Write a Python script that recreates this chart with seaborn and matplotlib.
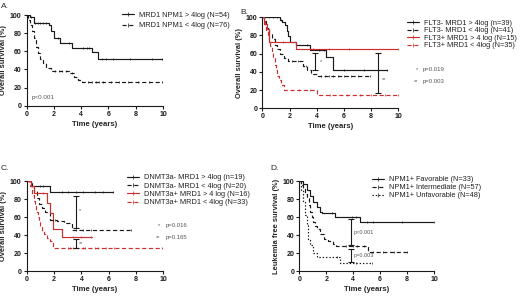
import numpy as np
import pandas as pd
import matplotlib
matplotlib.use("Agg")
import matplotlib.pyplot as plt
from matplotlib.lines import Line2D
import seaborn as sns

sns.set_style("ticks")
plt.rcParams['font.family'] = ['Liberation Sans', 'DejaVu Sans']

RED = "#cc2e2e"
BLACK = "#1a1a1a"
GRAY = "#555555"

# ---------------- Panel A ----------------
a_labels = ["MRD1 NPM1 > 4log (N=54)", "MRD1 NPM1 < 4log (N=76)"]
a_hi_t = [0, 0.25, 0.5, 1.65, 1.8, 2.0, 2.45, 3.3, 4.8, 5.2, 10]
a_hi_s = [100, 98, 91, 89, 82, 75, 69, 64, 59, 52, 52]
a_hi_c = [0.3, 0.6, 0.8, 1.0, 1.2, 1.4, 2.3, 3.1, 4.1, 4.4, 4.6, 5.5, 5.8, 6.3, 7.6, 9.2, 9.9]
a_lo_t = [0, 0.1, 0.25, 0.4, 0.55, 0.7, 0.85, 1.0, 1.2, 1.45, 1.8, 3.2, 3.5, 3.8, 4.05, 10]
a_lo_s = [100, 95, 89, 82, 75, 65, 58, 52, 47, 42, 38, 36, 32, 28, 26, 26]
a_lo_c = [2.1, 2.4, 2.6, 2.9, 3.3, 4.5, 4.8, 5.1, 5.3, 5.6, 6.2, 6.8, 7.4, 8.2, 9.0, 9.9]

# ---------------- Panel B ----------------
b_labels = ["FLT3- MRD1 > 4log (n=39)", "FLT3- MRD1 < 4log (N=41)",
            "FLT3+ MRD1 > 4 log (N=15)", "FLT3+ MRD1 < 4log (N=35)"]
b1_t = [0, 1.3, 1.45, 1.65, 1.8, 1.9, 2.0, 2.5, 3.5, 4.7, 5.2, 9.2]
b1_s = [100, 97, 95, 92, 85, 79, 73, 70, 64, 56, 42, 42]
b1_c = [0.5, 0.8, 1.1, 1.4, 3.3, 4.2, 4.5, 6.0, 7.5, 9.2]
b2_t = [0, 0.1, 0.3, 0.5, 0.7, 0.9, 1.1, 1.3, 1.6, 1.9, 3.0, 3.3, 3.6, 4.0, 7.9]
b2_s = [100, 96, 88, 82, 76, 70, 65, 60, 55, 52, 47, 42, 38, 36, 36]
b2_c = [2.2, 2.6, 3.2, 4.3, 4.6, 4.9, 5.2, 5.6, 6.0, 6.5, 7.0, 7.9]
b3_t = [0, 0.15, 0.35, 0.5, 2.5, 10]
b3_s = [100, 93, 87, 73, 65, 65]
b3_c = [1.5, 3.7, 4.9, 6.4, 10]
b4_t = [0, 0.1, 0.2, 0.3, 0.4, 0.5, 0.6, 0.7, 0.8, 0.9, 1.0, 1.1, 1.25, 1.4, 1.6, 4.05, 10]
b4_s = [100, 97, 91, 86, 80, 74, 68, 62, 55, 48, 42, 36, 31, 26, 20, 15, 15]
b4_c = [2.7, 3.5, 5.0, 6.2, 7.2, 8.0, 9.0, 10]
b_bar_x = [3.9, 8.5]
b_bar_lo = [42, 17]
b_bar_hi = [61, 61]
b_bar_lab = ["*", "**"]
b_p_texts = ["p=0.019", "p=0.003"]

# ---------------- Panel C ----------------
c_labels = ["DNMT3a- MRD1 > 4log (n=19)", "DNMT3a- MRD1 < 4log (N=20)",
            "DNMT3a+ MRD1 > 4 log (N=16)", "DNMT3a+ MRD1 < 4log (N=33)"]
c1_t = [0, 0.35, 1.7, 6.3]
c1_s = [100, 95, 88, 88]
c1_c = [1.0, 1.2, 2.6, 3.0, 3.6, 4.1, 5.0, 5.6, 6.3]
c2_t = [0, 0.4, 0.55, 0.75, 0.9, 1.1, 1.35, 1.7, 2.2, 2.75, 3.3, 7.6]
c2_s = [100, 94, 89, 81, 75, 70, 66, 57, 56, 53, 46, 46]
c2_c = [1.9, 2.1, 3.6, 4.1, 4.7, 7.6]
c3_t = [0, 0.3, 0.5, 1.45, 1.7, 1.95, 2.6, 4.8]
c3_s = [100, 94, 87, 76, 65, 47, 38, 38]
c3_c = [1.2, 3.4, 4.0, 4.7]
c4_t = [0, 0.25, 0.4, 0.5, 0.6, 0.7, 0.8, 0.9, 1.0, 1.15, 1.3, 1.5, 1.7, 1.95, 10]
c4_s = [100, 94, 85, 78, 72, 66, 60, 55, 50, 45, 41, 37, 33, 26, 26]
c4_c = [3.0, 3.2, 3.4, 4.1, 4.3, 5.0, 5.2, 5.8, 6.4, 9.9]
c_bar_x = [3.6, 3.6]
c_bar_lo = [48, 26]
c_bar_hi = [83, 36]
c_bar_lab = ["*", "**"]
c_p_texts = ["p=0.016", "p=0.165"]

# ---------------- Panel D ----------------
d_labels = ["NPM1+ Favorable (N=33)", "NPM1+ Intermediate (N=57)", "NPM1+ Unfavorable (N=48)"]
d1_t = [0, 0.3, 0.55, 0.8, 1.04, 1.3, 1.5, 1.65, 2.65, 4.5, 10]
d1_s = [100, 97, 90, 83, 77, 71, 66, 64, 60, 54, 54]
d1_c = [2.4, 3.9, 4.2, 5.0, 5.5, 7.6, 10]
d2_t = [0, 0.15, 0.3, 0.45, 0.55, 0.7, 0.8, 0.95, 1.04, 1.2, 1.3, 1.5, 1.8, 2.15, 2.5, 2.75, 5.1, 8.0]
d2_s = [100, 96, 92, 86, 81, 73, 66, 60, 55, 50, 47, 41, 36, 33, 30, 28, 21, 21]
d2_c = [3.5, 4.0, 4.3, 4.8, 5.5, 6.2, 7.0, 8.0]
d3_t = [0, 0.15, 0.3, 0.45, 0.55, 0.67, 0.8, 1.04, 1.3, 3.0, 5.4]
d3_s = [100, 90, 77, 62, 51, 36, 29, 20, 16, 9, 9]
d3_c = [2.8, 4.2, 5.4]
d_bar_x = [3.85, 3.85]
d_bar_lo = [29, 10]
d_bar_hi = [58, 25]
d_bar_lab = ["p<0.001", "p=0.003"]

W, H = 520, 296
fig = plt.figure(figsize=(W / 100, H / 100), dpi=100)
fig.patch.set_facecolor("white")


def px_axes(x0, y0, x1, y1):
    return fig.add_axes([x0 / W, 1 - y1 / H, (x1 - x0) / W, (y1 - y0) / H])


def ftext(x, y, s, **kw):
    kw.setdefault("va", "center")
    kw.setdefault("ha", "left")
    fig.text(x / W, 1 - y / H, s, **kw)


DASH = (0, (3.5, 2.2))
DOT = (0, (1.2, 1.6))


def km(ax, t, s, c, color, ls):
    df = pd.DataFrame({"t": t, "s": s})
    sns.lineplot(data=df, x="t", y="s", ax=ax, color=color, linestyle=ls,
                 linewidth=0.85, drawstyle="steps-post", estimator=None,
                 sort=False, legend=False)
    t_arr = np.asarray(t, dtype=float)
    s_arr = np.asarray(s, dtype=float)
    idx = np.clip(np.searchsorted(t_arr, np.asarray(c), side="right") - 1, 0, len(s_arr) - 1)
    cdf = pd.DataFrame({"t": c, "s": s_arr[idx]})
    sns.scatterplot(data=cdf, x="t", y="s", ax=ax, marker="|", s=4,
                    color=color, linewidth=0.5, legend=False, zorder=3)


def style_ax(ax, ylabel):
    ax.set_xlim(0, 10)
    ax.set_ylim(0, 100)
    ax.set_xticks([0, 2, 4, 6, 8, 10])
    ax.set_yticks([0, 20, 40, 60, 80, 100])
    ax.tick_params(axis="both", length=2.5, width=0.8, pad=1.2, labelsize=5, colors=BLACK)
    for lab in ax.get_xticklabels() + ax.get_yticklabels():
        lab.set_fontweight("bold")
    ax.set_xlabel("Time (years)", fontsize=5.6, fontweight="bold", labelpad=2)
    ax.set_ylabel(ylabel, fontsize=5.4, fontweight="bold", labelpad=2)
    for sp in ["top", "right"]:
        ax.spines[sp].set_visible(False)
    for sp in ["left", "bottom"]:
        ax.spines[sp].set_linewidth(0.8)
        ax.spines[sp].set_color(BLACK)
    ax.set_facecolor("none")


def bars(ax, xs, lo, hi):
    xs = np.asarray(xs); lo = np.asarray(lo); hi = np.asarray(hi)
    mid = (lo + hi) / 2
    ax.errorbar(xs, mid, yerr=[mid - lo, hi - mid], fmt="none", ecolor=BLACK,
                elinewidth=0.8, capsize=2.3, capthick=0.8, zorder=4)


def legend(ax, handles_spec, labels, x, y, spacing):
    hs = [Line2D([], [], color=col, linestyle=ls, linewidth=0.85, marker="|",
                 markersize=2.5, markeredgewidth=0.5) for col, ls in handles_spec]
    ax.legend(hs, labels, loc="upper left", bbox_to_anchor=(x / W, 1 - y / H),
              bbox_transform=fig.transFigure, frameon=False, fontsize=5.3,
              borderpad=0, borderaxespad=0, handlelength=1.6, handletextpad=0.7,
              labelspacing=spacing, numpoints=1, labelcolor="#222222")


# Panel A
axA = px_axes(26.7, 15, 163, 105.7)
km(axA, a_hi_t, a_hi_s, a_hi_c, BLACK, "-")
km(axA, a_lo_t, a_lo_s, a_lo_c, BLACK, DASH)
style_ax(axA, "Overall survival (%)")
axA.text(0.35, 9, "p<0.001", fontsize=4.5, color=GRAY, va="center")
legend(axA, [(BLACK, "-"), (BLACK, DASH)], a_labels, 122, 11.5, 0.5)
ftext(1, 6, "A.", fontsize=6)

# Panel B
axB = px_axes(262.3, 17.3, 398.3, 108.3)
km(axB, b1_t, b1_s, b1_c, BLACK, "-")
km(axB, b2_t, b2_s, b2_c, BLACK, DASH)
km(axB, b3_t, b3_s, b3_c, RED, "-")
km(axB, b4_t, b4_s, b4_c, RED, DASH)
bars(axB, b_bar_x, b_bar_lo, b_bar_hi)
axB.text(b_bar_x[0] + 0.3, 51, b_bar_lab[0], fontsize=4, color=GRAY, va="center")
axB.text(b_bar_x[1] + 0.3, 32, b_bar_lab[1], fontsize=4, color=GRAY, va="center")
style_ax(axB, "Overall survival (%)")
legend(axB, [(BLACK, "-"), (BLACK, DASH), (RED, "-"), (RED, DASH)], b_labels, 407, 19.5, 0.05)
ftext(416, 70, b_bar_lab[0], fontsize=4, color=GRAY)
ftext(423, 70, b_p_texts[0], fontsize=4.3, color=GRAY)
ftext(414, 81.7, b_bar_lab[1], fontsize=4, color=GRAY)
ftext(423, 81.7, b_p_texts[1], fontsize=4.3, color=GRAY)
ftext(240, 12, "B.", fontsize=6)

# Panel C
axC = px_axes(26.7, 181, 163.3, 271)
km(axC, c1_t, c1_s, c1_c, BLACK, "-")
km(axC, c2_t, c2_s, c2_c, BLACK, DASH)
km(axC, c3_t, c3_s, c3_c, RED, "-")
km(axC, c4_t, c4_s, c4_c, RED, DASH)
bars(axC, c_bar_x, c_bar_lo, c_bar_hi)
axC.text(c_bar_x[0] + 0.25, 67, c_bar_lab[0], fontsize=4, color=GRAY, va="center")
axC.text(c_bar_x[1] + 0.25, 31, c_bar_lab[1], fontsize=4, color=GRAY, va="center")
style_ax(axC, "Overall survival (%)")
legend(axC, [(BLACK, "-"), (BLACK, DASH), (RED, "-"), (RED, DASH)], c_labels, 127, 174, 0.17)
ftext(158, 225.3, c_bar_lab[0], fontsize=4, color=GRAY)
ftext(166, 225.3, c_p_texts[0], fontsize=4.3, color=GRAY)
ftext(156, 238, c_bar_lab[1], fontsize=4, color=GRAY)
ftext(166, 238, c_p_texts[1], fontsize=4.3, color=GRAY)
ftext(1, 168, "C.", fontsize=6)

# Panel D
axD = px_axes(299.3, 181, 434, 271)
km(axD, d1_t, d1_s, d1_c, BLACK, "-")
km(axD, d2_t, d2_s, d2_c, BLACK, DASH)
km(axD, d3_t, d3_s, d3_c, BLACK, DOT)
bars(axD, d_bar_x, d_bar_lo, d_bar_hi)
axD.text(d_bar_x[0] + 0.15, 43, d_bar_lab[0], fontsize=4, color=GRAY, va="center")
axD.text(d_bar_x[1] + 0.15, 17, d_bar_lab[1], fontsize=4, color=GRAY, va="center")
style_ax(axD, "Leukemia free survival (%)")
legend(axD, [(BLACK, "-"), (BLACK, DASH), (BLACK, DOT)], d_labels, 372, 176, 0.13)
ftext(270, 169, "D.", fontsize=6)

fig.savefig("out.png", dpi=100, facecolor="white")
